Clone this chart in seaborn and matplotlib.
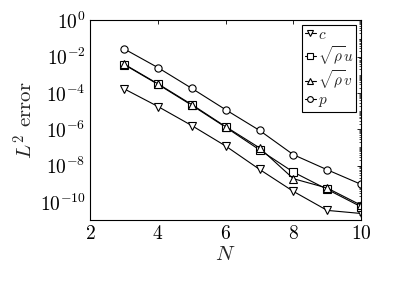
import numpy as np
import pandas as pd
import matplotlib
matplotlib.use("Agg")
import matplotlib.pyplot as plt
import matplotlib.ticker as mticker
import seaborn as sns

N = [3, 4, 5, 6, 7, 8, 9, 10]
err_c = [1.7e-4, 1.8e-5, 1.6e-6, 1.2e-7, 6.2e-9, 3.8e-10, 3.4e-11, 2.3e-11]
err_u = [3.7e-3, 3.0e-4, 2.1e-5, 1.3e-6, 7.4e-8, 4.4e-9, 4.9e-10, 5.4e-11]
err_v = [3.9e-3, 3.2e-4, 2.3e-5, 1.4e-6, 9.5e-8, 1.9e-9, 5.8e-10, 6.6e-11]
err_p = [2.7e-2, 2.5e-3, 1.8e-4, 1.2e-5, 8.7e-7, 4.0e-8, 5.9e-9, 9.3e-10]
labels = [r'$c$', r'$\sqrt{\rho}u$', r'$\sqrt{\rho}v$', r'$p$']
xticks = [2, 4, 6, 8, 10]

sns.set_theme(style="white")
plt.rcParams['font.family'] = ['cmr10', 'DejaVu Serif']
plt.rcParams['mathtext.fontset'] = 'cm'
plt.rcParams['axes.formatter.use_mathtext'] = True

df = pd.DataFrame({
    'N': N * 4,
    'err': err_c + err_u + err_v + err_p,
    'var': sum([[l] * len(N) for l in labels], []),
})

fig = plt.figure(figsize=(4.07, 2.88), dpi=100)
ax = fig.add_axes([0.222, 0.236, 0.665, 0.693])

markers = {labels[0]: 'v', labels[1]: 's', labels[2]: '^', labels[3]: 'o'}
palette = {l: 'black' for l in labels}
sns.lineplot(data=df, x='N', y='err', hue='var', style='var', markers=markers,
             dashes=False, palette=palette, ax=ax, linewidth=0.8,
             markersize=5.2, markerfacecolor='white', markeredgecolor='black',
             markeredgewidth=0.8, legend=True)

ax.set_yscale('log')
ax.set_xlim(2, 10)
ax.set_ylim(1e-11, 1)
ax.set_xticks(xticks)
ax.xaxis.set_major_formatter(mticker.FuncFormatter(lambda v, p: r'$%d$' % v))
ax.yaxis.set_major_locator(mticker.FixedLocator([10.0**k for k in range(0, -11, -2)]))
ax.yaxis.set_minor_locator(mticker.LogLocator(base=10, subs=np.arange(1, 10), numticks=30))
ax.yaxis.set_minor_formatter(mticker.NullFormatter())
ax.yaxis.set_major_formatter(mticker.FuncFormatter(lambda v, p: r'$10^{%d}$' % round(np.log10(v))))
ax.tick_params(axis='both', which='both', direction='in', top=True, right=True,
               labelsize=14, colors='black')
ax.tick_params(which='major', length=3, width=0.6)
ax.tick_params(which='minor', length=1.8, width=0.5)
for s in ax.spines.values():
    s.set_color('black')
    s.set_linewidth(0.8)

ax.set_xlabel(r'$N$', fontsize=15, labelpad=2)
ax.set_ylabel(r'$L^2$ error', fontsize=15, labelpad=2)

leg = ax.legend(loc='upper right', fontsize=11, handlelength=0.7, handletextpad=0.15,
                borderpad=0.2, labelspacing=0.12, borderaxespad=0.3, fancybox=False,
                framealpha=1, edgecolor='black', markerscale=0.8)
leg.get_frame().set_linewidth(0.8)
for h in leg.legend_handles:
    h.set_markerfacecolor('white')
    h.set_markeredgecolor('black')
    h.set_color('black')

fig.savefig('out.png', dpi=100)
